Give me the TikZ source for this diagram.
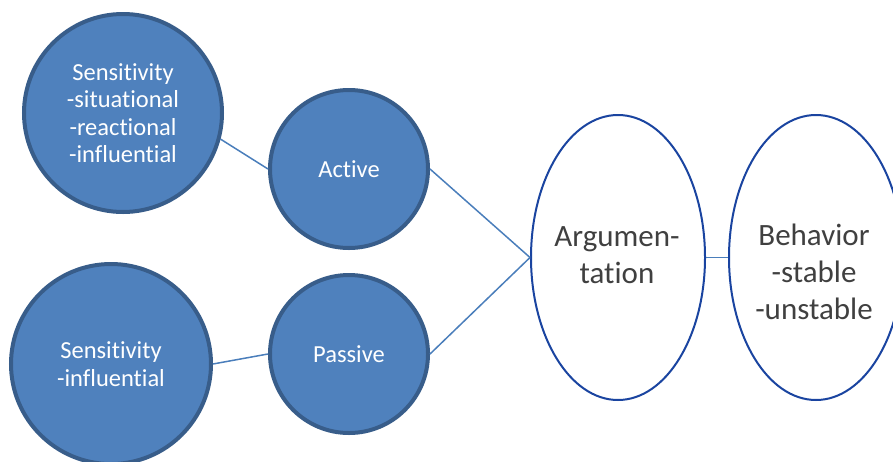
\documentclass[tikz,border=0pt]{standalone}
\usepackage{fontspec}
\setmainfont{Carlito}[Ligatures={NoCommon,NoRequired,NoContextual}]
\usetikzlibrary{shapes.geometric}
\definecolor{cfill}{HTML}{4F81BD}
\definecolor{cedge}{HTML}{385D8A}
\definecolor{conn}{HTML}{4A7EBB}
\definecolor{elledge}{HTML}{1A44A0}
\definecolor{etext}{HTML}{404040}
\tikzset{
  bub/.style={circle, draw=cedge, fill=cfill, line width=4pt, inner sep=0pt,
    text=white, align=center, font=\fontsize{24.5}{27.4}\selectfont},
  oval/.style={ellipse, draw=elledge, line width=2pt, inner sep=0pt,
    minimum width=174pt, minimum height=285pt},
  otext/.style={text=etext, align=center, anchor=base, inner sep=0pt,
    font=\fontsize{31}{37}\selectfont},
  link/.style={draw=conn, line width=1.5pt}
}
\begin{document}
\begin{tikzpicture}[x=1pt, y=-1pt]
\useasboundingbox (0,0) rectangle (893,461);
\node[bub, minimum size=198pt] (s1) at (123,113) {Sensitivity\\-situational\\-reactional\\-influential};
\node[bub, minimum size=158pt] (act) at (349,169) {Active};
\node[bub, minimum size=200pt] (s2) at (111,364) {Sensitivity\\-influential};
\node[bub, minimum size=158pt] (pas) at (349,354) {Passive};
\node[oval] (arg) at (618,257.5) {};
\node[oval] (beh) at (816,257.5) {};
\node[otext] (argt) at (617,283.3) {Argumen-\\tation};
\node[otext] (beht) at (814,319.3) {Behavior\\-stable\\-unstable};
\draw[link] (s1.-15) -- (act.west);
\draw[link] (s2.east) -- (pas.west);
\draw[link] (act.east) -- (arg.west);
\draw[link] (pas.east) -- (arg.west);
\draw[link] (arg.east) -- (beh.west);
\end{tikzpicture}
\end{document}
